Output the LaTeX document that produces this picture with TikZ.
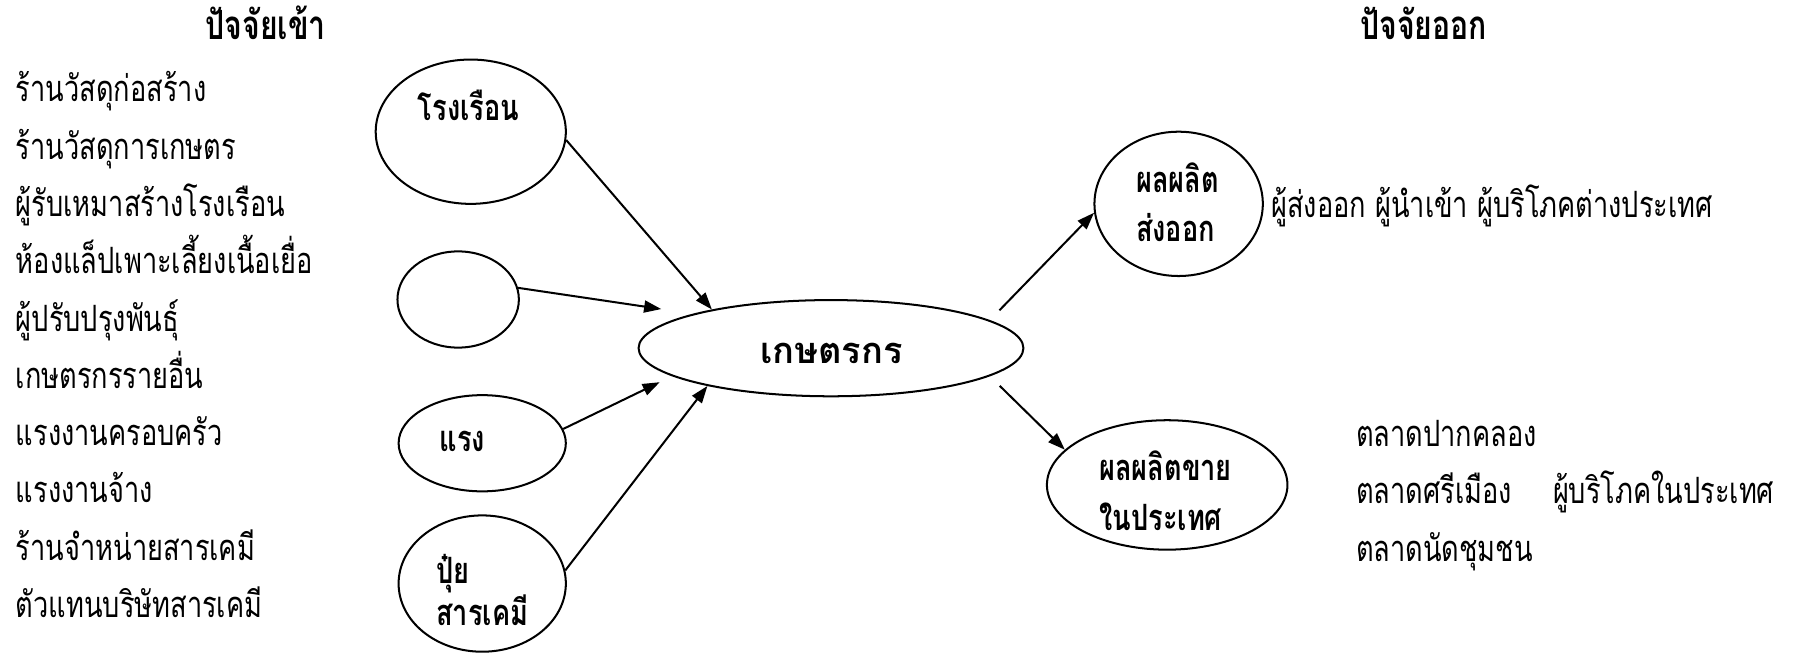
\documentclass[tikz,border=0pt]{standalone}
\usepackage{fontspec}
\newfontfamily\thaifont[Script=Thai,FakeStretch=0.75]{Loma}
\newfontfamily\thaiwide[Script=Thai]{Loma}
\usetikzlibrary{positioning}
\usetikzlibrary{shapes.geometric}
\usetikzlibrary{arrows.meta}
\tikzset{>={Triangle[length=1.5mm,width=1.05mm]}}
\tikzset{oval/.style={draw, ellipse, inner sep=0pt, line width=0.5pt}}
\tikzset{txt/.style={anchor=base west, inner sep=0pt, font=\thaifont\fontsize{9}{11}\selectfont}}
\tikzset{lbl/.style={anchor=base west, inner sep=0pt, align=left, font=\thaifont\bfseries\fontsize{9}{12.3}\selectfont}}
\tikzset{hd/.style={anchor=base, inner sep=0pt, font=\thaifont\bfseries\fontsize{10}{11}\selectfont}}

\begin{document}
\begin{tikzpicture}[line width=0.5pt]
\useasboundingbox (0,0) rectangle (15.68,5.70);

% heads
\node[hd] (inhead) at (2.32, 5.355) {ปัจจัยเข้า};
\node[hd] (outhead) at (12.43, 5.355) {ปัจจัยออก};

% inputs
\node[txt] (in1) at (0.13, 4.81) {ร้านวัสดุก่อสร้าง};
\node[txt] (in2) at (0.13, 4.31) {ร้านวัสดุการเกษตร};
\node[txt] (in3) at (0.13, 3.81) {ผู้รับเหมาสร้างโรงเรือน};
\node[txt] (in4) at (0.13, 3.31) {ห้องแล็ปเพาะเลี้ยงเนื้อเยื่อ};
\node[txt] (in5) at (0.13, 2.81) {ผู้ปรับปรุงพันธุ์};
\node[txt] (in6) at (0.13, 2.31) {เกษตรกรรายอื่น};
\node[txt] (in7) at (0.13, 1.81) {แรงงานครอบครัว};
\node[txt] (in8) at (0.13, 1.31) {แรงงานจ้าง};
\node[txt] (in9) at (0.13, 0.81) {ร้านจำหน่ายสารเคมี};
\node[txt] (in10) at (0.13, 0.31) {ตัวแทนบริษัทสารเคมี};

% ovals
\node[oval, minimum width=1.66cm, minimum height=1.26cm] (house) at (4.11, 4.55) {};
\node[oval, minimum width=1.06cm, minimum height=0.84cm] (blank) at (4.00, 3.085) {};
\node[oval, minimum width=1.46cm, minimum height=0.84cm] (labour) at (4.21, 1.83) {};
\node[oval, minimum width=1.46cm, minimum height=1.19cm] (fert) at (4.21, 0.605) {};
\node[oval, minimum width=3.36cm, minimum height=0.84cm] (farmer) at (7.255, 2.66) {};
\node[oval, minimum width=1.47cm, minimum height=1.26cm] (export) at (10.29, 3.92) {};
\node[oval, minimum width=2.10cm, minimum height=1.13cm] (domestic) at (10.19, 1.466) {};

\node[lbl] (houselbl) at (3.64, 4.644) {โรงเรือน};
\node[lbl] (labourlbl) at (3.83, 1.76) {แรง};
\node[lbl, font=\thaifont\bfseries\fontsize{9}{10.5}\selectfont] (fertlbl) at (3.80, 0.24) {ปุ๋ย\\สารเคมี};
\node[anchor=base, inner sep=0pt, font=\thaiwide\bfseries\fontsize{9}{11}\selectfont] (farmerlbl) at (7.26, 2.53) {เกษตรกร};
\node[lbl] (exportlbl) at (9.91, 3.59) {ผลผลิต\\ส่งออก};
\node[lbl] (domesticlbl) at (9.59, 1.07) {ผลผลิตขาย\\ในประเทศ};

% outputs
\node[txt] (out1) at (11.09, 3.805) {ผู้ส่งออก ผู้นำเข้า ผู้บริโภคต่างประเทศ};
\node[txt] (out2) at (11.83, 1.80) {ตลาดปากคลอง};
\node[txt] (out3) at (11.83, 1.30) {ตลาดศรีเมือง};
\node[txt] (out4) at (11.83, 0.80) {ตลาดนัดชุมชน};
\node[txt] (out5) at (13.55, 1.30) {ผู้บริโภคในประเทศ};

\draw[->] (house.-5) -- (farmer.162);
\draw[->, shorten >=0.28cm] (blank.11) -- (farmer.166);
\draw[->, shorten >=0.12cm] (labour.10) -- (farmer.190);
\draw[->] (fert.9) -- (farmer.197);

\draw[->, shorten <=0.12cm] (farmer.10) -- (export.186);
\draw[->, shorten <=0.12cm] (farmer.-10) -- (domestic.161);
\end{tikzpicture}
\end{document}
